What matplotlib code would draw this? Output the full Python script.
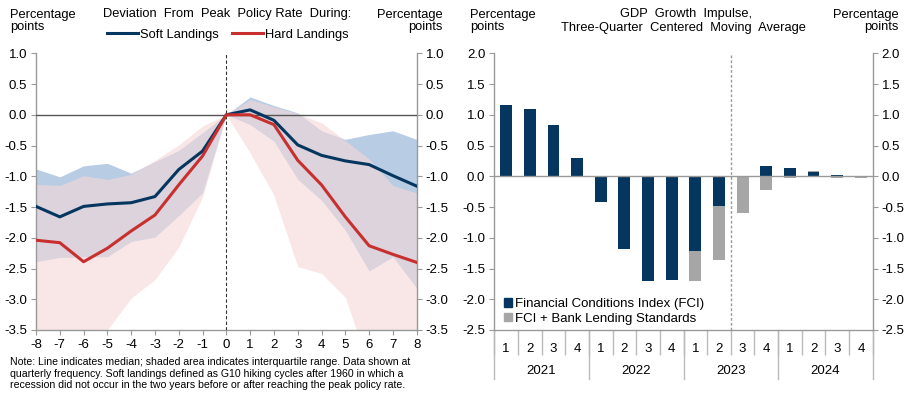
import numpy as np
import matplotlib
matplotlib.use("Agg")
import matplotlib.pyplot as plt
from matplotlib.patches import Patch

plt.rcParams['font.family'] = ['Liberation Sans', 'DejaVu Sans']
plt.rcParams['font.size'] = 9

# ---------------- data: left panel ----------------
quarters_rel = list(range(-8, 9))
soft_median = [-1.49, -1.66, -1.49, -1.45, -1.43, -1.33, -0.89, -0.59, 0.0,
               0.08, -0.09, -0.49, -0.66, -0.75, -0.81, -0.99, -1.16]
hard_median = [-2.04, -2.08, -2.39, -2.17, -1.89, -1.63, -1.14, -0.67, 0.0,
               0.0, -0.16, -0.74, -1.14, -1.66, -2.13, -2.27, -2.40]
soft_upper = [-0.88, -1.01, -0.83, -0.79, -0.95, -0.76, -0.58, -0.29, 0.0,
              0.29, 0.15, 0.03, -0.26, -0.40, -0.32, -0.26, -0.40]
soft_lower = [-2.39, -2.32, -2.31, -2.31, -2.06, -1.99, -1.64, -1.27, 0.0,
              -0.16, -0.43, -1.05, -1.39, -1.88, -2.54, -2.31, -2.82]
hard_upper = [-1.13, -1.15, -0.99, -1.05, -0.97, -0.74, -0.49, -0.18, 0.0,
              0.25, 0.13, 0.02, -0.13, -0.42, -0.72, -1.15, -1.27]
hard_lower = [-4.3, -4.1, -3.9, -3.5, -2.98, -2.68, -2.15, -1.34, 0.0,
              -0.62, -1.31, -2.47, -2.58, -2.97, -4.1, -4.3, -4.5]

# ---------------- data: right panel ----------------
years = ['2021', '2022', '2023', '2024']
quarter_labels = ['1', '2', '3', '4'] * 4
fci = [1.16, 1.09, 0.83, 0.30, -0.42, -1.18, -1.70, -1.69,
       -1.21, -0.49, 0.0, 0.17, 0.14, 0.07, 0.02, 0.0]
fci_bls = [1.16, 1.09, 0.83, 0.30, -0.42, -1.18, -1.70, -1.69,
           -1.71, -1.36, -0.60, -0.23, -0.03, 0.09, -0.03, -0.025]

navy = '#04365f'
red = '#c83030'
soft_c = '#b8cce4'
pink_c = '#f5d8d8'
gray_bar = '#a6a6a6'
spine_c = '#999999'
FS = 9.5

W, H = 912, 407
fig = plt.figure(figsize=(W / 100, H / 100), dpi=100)
ybot = 1 - 330 / H
hgt = (330 - 53.3) / H
ax1 = fig.add_axes([36 / W, ybot, (416.7 - 36) / W, hgt])
ax2 = fig.add_axes([494.3 / W, ybot, (872.7 - 494.3) / W, hgt])

# ---------- left panel ----------
ax1.fill_between(quarters_rel, soft_lower, soft_upper, color=soft_c, lw=0, zorder=1)
ax1.fill_between(quarters_rel, hard_lower, hard_upper, color=pink_c, alpha=0.6, lw=0, zorder=2)
ax1.axhline(0, color='#555555', lw=1.0, zorder=3)
ax1.axvline(0, color='#333333', lw=0.8, ls=(0, (3, 2)), zorder=3)
l_soft, = ax1.plot(quarters_rel, soft_median, color=navy, lw=2.2, zorder=4, label='Soft Landings')
l_hard, = ax1.plot(quarters_rel, hard_median, color=red, lw=2.2, zorder=4, label='Hard Landings')
ax1.set_xlim(-8, 8)
ax1.set_ylim(-3.5, 1.0)
ax1.set_xticks(quarters_rel)
ax1.set_xticklabels([str(q) for q in quarters_rel])
yt1 = np.arange(-3.5, 1.01, 0.5)
ax1.set_yticks(yt1)
ax1.set_yticklabels(['%.1f' % v for v in yt1])

# ---------- right panel ----------
xpos = np.arange(len(fci))
ax2.bar(xpos, fci_bls, width=0.5, color=gray_bar, zorder=2, label='FCI + Bank Lending Standards')
ax2.bar(xpos, fci, width=0.5, color=navy, zorder=3, label='Financial Conditions Index (FCI)')
ax2.axhline(0, color=spine_c, lw=1.0, zorder=4)
ax2.axvline(9.5, color=spine_c, lw=1.0, ls=(0, (2, 1.5)), zorder=4)
ax2.set_xlim(-0.5, 15.5)
ax2.set_ylim(-2.5, 2.0)
yt2 = np.arange(-2.5, 2.01, 0.5)
ax2.set_yticks(yt2)
ax2.set_yticklabels(['%.1f' % v for v in yt2])
ax2.set_xticks(xpos)
ax2.set_xticklabels(quarter_labels)
ax2.set_xticks(np.arange(-0.5, 16, 1.0), minor=True)
ax2.tick_params(axis='x', which='major', length=0, pad=9, labelsize=FS)
ax2.tick_params(axis='x', which='minor', length=18, width=1.0, color='#bbbbbb', direction='out')
axh = 330 - 53.3
for b in [-0.5, 3.5, 7.5, 11.5, 15.5]:
    ax2.plot([b, b], [0, -49 / axh], transform=ax2.get_xaxis_transform(),
             color='#bbbbbb', lw=1.0, clip_on=False)
for i, yr in enumerate(years):
    ax2.text(4 * i + 1.5, -41 / axh, yr, transform=ax2.get_xaxis_transform(),
             ha='center', va='center', fontsize=FS)

h_fci = Patch(color=navy)
h_bls = Patch(color=gray_bar)
ax2.legend([h_fci, h_bls], ['Financial Conditions Index (FCI)', 'FCI + Bank Lending Standards'],
           loc='lower left', bbox_to_anchor=(0.015, 0.005), frameon=False, borderaxespad=0.1,
           borderpad=0.2, handlelength=0.6, handleheight=0.6, handletextpad=0.25,
           labelspacing=0.2, fontsize=FS)

for ax in (ax1, ax2):
    ax.spines['top'].set_visible(False)
    for s in ('left', 'right', 'bottom'):
        ax.spines[s].set_color(spine_c)
        ax.spines[s].set_linewidth(1.0)
    ax.tick_params(axis='y', which='both', left=True, right=True, labelleft=True,
                   labelright=True, direction='out', length=3.5, color=spine_c, pad=3,
                   labelsize=FS)
ax1.tick_params(axis='x', direction='out', length=3.5, color=spine_c, pad=3, labelsize=FS)

# ---------- headers ----------
fig.text(10 / W, 1 - 21 / H, 'Percentage\npoints', ha='left', va='center', fontsize=9.3, linespacing=1.05)
fig.text(443 / W, 1 - 21 / H, 'Percentage\npoints', ha='right', va='center', fontsize=9.3, linespacing=1.05)
fig.text(227 / W, 1 - 14 / H, 'Deviation  From  Peak  Policy Rate  During:', ha='center', va='center', fontsize=9.3)
fig.legend([l_soft, l_hard], ['Soft Landings', 'Hard Landings'], loc='center',
           bbox_to_anchor=(228 / W, 1 - 35 / H), ncol=2, frameon=False, handlelength=2.4,
           handletextpad=0.15, columnspacing=1.0, fontsize=9.3, borderpad=0)

fig.text(470 / W, 1 - 21 / H, 'Percentage\npoints', ha='left', va='center', fontsize=9.3, linespacing=1.05)
fig.text(899 / W, 1 - 21 / H, 'Percentage\npoints', ha='right', va='center', fontsize=9.3, linespacing=1.05)
fig.text(686 / W, 1 - 14 / H, 'GDP  Growth  Impulse,', ha='center', va='center', fontsize=9.3)
fig.text(683 / W, 1 - 28 / H, 'Three-Quarter  Centered  Moving  Average', ha='center', va='center', fontsize=9.3)

note = ('Note: Line indicates median; shaded area indicates interquartile range. Data shown at\n'
        'quarterly frequency. Soft landings defined as G10 hiking cycles after 1960 in which a\n'
        'recession did not occur in the two years before or after reaching the peak policy rate.')
fig.text(10 / W, 1 - 357 / H, note, ha='left', va='top', fontsize=7.6, linespacing=1.2)

fig.savefig('out.png', dpi=100)
